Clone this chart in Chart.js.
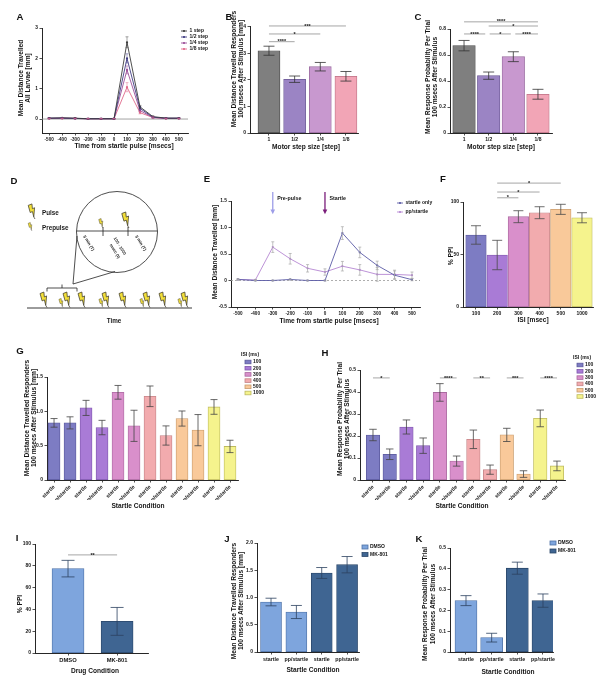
<!DOCTYPE html>
<html>
<head>
<meta charset="utf-8">
<title>Startle / PPI figure</title>
<script src="https://cdn.jsdelivr.net/npm/chart.js@4.4.1/dist/chart.umd.min.js"></script>
<style>
  html, body { margin:0; padding:0; background:#ffffff; }
  body { position:relative; width:612px; height:680px; overflow:hidden; font-family:'Liberation Sans', Arial, sans-serif; }
  canvas { position:absolute; left:0; top:0; }
  #overlay { position:absolute; left:0; top:0; }
</style>
</head>
<body>
<script>
// ================= DATA =================
// Panel A
const timeTicks = [-500,-400,-300,-200,-100,0,100,200,300,400,500];
const stepLabels = ['1 step','1/2 step','1/4 step','1/8 step'];
const distStep1 = [0.03,0.04,0.03,0.01,0.01,0.01,2.53,0.40,0.08,0.03,0.03];
const distStep2 = [0.03,0.03,0.02,0.01,0.01,0.01,2.00,0.35,0.06,0.03,0.03];
const distStep4 = [0.02,0.03,0.02,0.01,0.01,0.01,1.62,0.28,0.05,0.02,0.02];
const distStep8 = [0.02,0.02,0.02,0.01,0.01,0.01,1.05,0.21,0.05,0.02,0.02];
const errStep1 = [0.01,0.01,0.01,0.01,0.01,0.01,0.18,0.05,0.02,0.01,0.01];
const errStep2 = [0.01,0.01,0.01,0.01,0.01,0.01,0.15,0.05,0.02,0.01,0.01];
const errStep4 = [0.01,0.01,0.01,0.01,0.01,0.01,0.13,0.04,0.02,0.01,0.01];
const errStep8 = [0.01,0.01,0.01,0.01,0.01,0.01,0.15,0.04,0.02,0.01,0.01];
// Panels B, C
const stepCats = ['1','1/2','1/4','1/8'];
const respDistStep = [3.09, 2.02, 2.49, 2.13];
const respDistStepErr = [0.17, 0.12, 0.16, 0.18];
const respProbStep = [0.672, 0.441, 0.587, 0.298];
const respProbStepErr = [0.040, 0.028, 0.038, 0.038];
// Panel E
const eventLabels = ['Pre-pulse','Startle'];
const eventTimes = [-300, 0];
const trialLabels = ['startle only','pp/startle'];
const startleOnly = [0.02,0.00,0.00,0.02,0.00,0.00,0.895,0.53,0.285,0.10,0.015];
const startleOnlyErr = [0.01,0.01,0.01,0.01,0.01,0.01,0.12,0.10,0.08,0.08,0.02];
const ppStartle = [0.02,0.01,0.63,0.41,0.23,0.16,0.27,0.20,0.115,0.115,0.10];
const ppStartleErr = [0.01,0.01,0.10,0.10,0.07,0.06,0.09,0.10,0.13,0.08,0.06];
// Panel F
const isiLabels = ['100','200','300','400','500','1000'];
const ppiByIsi = [68.6, 49.5, 86.0, 89.8, 93.0, 85.0];
const ppiByIsiErr = [8.8, 14.0, 5.7, 5.7, 4.8, 4.8];
// Panels G, H
const conditionLabels = ['startle','pp/startle','startle','pp/startle','startle','pp/startle','startle','pp/startle','startle','pp/startle','startle','pp/startle'];
const respDistIsi = [0.832,0.832,1.05,0.764,1.277,0.789,1.219,0.648,0.895,0.726,1.064,0.489];
const respDistIsiErr = [0.063,0.088,0.11,0.105,0.10,0.227,0.15,0.14,0.11,0.227,0.107,0.09];
const respProbIsi = [0.2045,0.117,0.241,0.156,0.398,0.086,0.185,0.047,0.205,0.027,0.28,0.064];
const respProbIsiErr = [0.026,0.024,0.032,0.035,0.04,0.023,0.042,0.021,0.03,0.015,0.038,0.022];
const sigIsi = ['*','','****','**','***','****'];
// Panel I
const drugLabels = ['DMSO','MK-801'];
const ppiDrug = [77.4, 29.0];
const ppiDrugErr = [7.6, 12.8];
// Panels J, K
const pairLabels = ['startle','pp/startle','startle','pp/startle'];
const distDmso = [0.917, 0.734];
const distDmsoErr = [0.07, 0.12];
const distMk = [1.45, 1.602];
const distMkErr = [0.10, 0.15];
const probDmso = [0.247, 0.069];
const probDmsoErr = [0.024, 0.021];
const probMk = [0.403, 0.247];
const probMkErr = [0.029, 0.032];

// ================= STYLE =================
const FONT = "'Liberation Sans', Arial, Helvetica, sans-serif";
const AXIS = '#262626';
const TXT = '#141414';
const stepLineColors = ['#3c3c3c','#3f3b82','#9b4e98','#e0698a'];
const stepFill = ['#7f7f7f','#9b84c4','#c898cf','#f2a5b6'];
const stepBorder = ['#4a4a4a','#6a5894','#98699e','#bd7285'];
const trialColors = ['#5b5ba6','#b587d3'];
const eventColors = ['#9d9de8','#7a1d7a'];
const isiFill = ['#7d7cc3','#a97bd6','#d98fcb','#f2abae','#f9c99a','#f5f38d'];
const isiBorder = ['#5a599c','#7f58ad','#aa6aa0','#c48487','#c89c6e','#bcb95e'];
const drugFill = ['#7ea5dd','#3f6592'];
const drugBorder = ['#4f72a6','#2a4668'];

const EXTRAS = {};
const bf = s => `bold ${s}px ${FONT}`;
const fmtDec = d => v => (v === 0 ? '0' : v.toFixed(d));
const idx = arr => arr.map((_, i) => i + 1);

const extrasPlugin = {
  id: 'extras',
  beforeDatasetsDraw(chart) {
    const e = EXTRAS[chart.canvas.id];
    if (!e || !e.zeroLine) return;
    const ctx = chart.ctx, a = chart.chartArea, y = chart.scales.y.getPixelForValue(0);
    ctx.save();
    ctx.strokeStyle = e.zeroLine.color; ctx.lineWidth = e.zeroLine.width;
    ctx.setLineDash(e.zeroLine.dash || []);
    ctx.beginPath(); ctx.moveTo(a.left, y); ctx.lineTo(a.right, y); ctx.stroke();
    ctx.restore();
  },
  afterDatasetsDraw(chart) {
    const ctx = chart.ctx, ys = chart.scales.y;
    chart.data.datasets.forEach((ds, di) => {
      if (!ds.errors) return;
      const meta = chart.getDatasetMeta(di);
      meta.data.forEach((el, i) => {
        const err = ds.errors[i];
        if (!err) return;
        const v = ds.data[i].y;
        const yTop = ys.getPixelForValue(v + err), yBot = ys.getPixelForValue(v - err);
        const half = ds.capWidth / 2;
        ctx.save();
        ctx.strokeStyle = ds.errorColor; ctx.lineWidth = ds.errorWidth || 0.8;
        ctx.beginPath();
        ctx.moveTo(el.x, yTop); ctx.lineTo(el.x, yBot);
        ctx.moveTo(el.x - half, yTop); ctx.lineTo(el.x + half, yTop);
        ctx.moveTo(el.x - half, yBot); ctx.lineTo(el.x + half, yBot);
        ctx.stroke();
        ctx.restore();
      });
    });
  },
  afterDraw(chart) {
    const e = EXTRAS[chart.canvas.id];
    if (!e) return;
    const ctx = chart.ctx, xs = chart.scales.x, ys = chart.scales.y;
    (e.brackets || []).forEach(b => {
      const x1 = xs.getPixelForValue(b.x1), x2 = xs.getPixelForValue(b.x2), y = ys.getPixelForValue(b.y);
      ctx.save();
      ctx.strokeStyle = '#9c9c9c'; ctx.lineWidth = 0.9;
      ctx.beginPath(); ctx.moveTo(x1, y); ctx.lineTo(x2, y); ctx.stroke();
      ctx.fillStyle = TXT; ctx.font = bf(5.5); ctx.textAlign = 'center'; ctx.textBaseline = 'alphabetic';
      ctx.fillText(b.text, (x1 + x2) / 2, y + 1.6);
      ctx.restore();
    });
    (e.arrows || []).forEach(ar => {
      const x = xs.getPixelForValue(ar.x), y0 = ys.getPixelForValue(ar.from), y1 = ys.getPixelForValue(ar.to);
      ctx.save();
      ctx.strokeStyle = ar.color; ctx.fillStyle = ar.color; ctx.lineWidth = 1.3;
      ctx.beginPath(); ctx.moveTo(x, y0); ctx.lineTo(x, y1 - 4); ctx.stroke();
      ctx.beginPath(); ctx.moveTo(x - 2.3, y1 - 4.8); ctx.lineTo(x + 2.3, y1 - 4.8); ctx.lineTo(x, y1); ctx.closePath(); ctx.fill();
      ctx.fillStyle = TXT; ctx.font = bf(5.3); ctx.textAlign = 'left'; ctx.textBaseline = 'middle';
      ctx.fillText(ar.label, x + 4.5, ys.getPixelForValue(ar.labelY));
      ctx.restore();
    });
    if (e.legend) {
      const L = e.legend;
      ctx.save();
      ctx.font = bf(L.size || 5); ctx.textBaseline = 'middle'; ctx.textAlign = 'left';
      if (L.title) { ctx.fillStyle = TXT; ctx.fillText(L.title, L.titleX, L.titleY); }
      const items = L.items || chart.data.datasets.map(d => ({label: d.label, fill: d.backgroundColor, stroke: d.borderColor}));
      items.forEach((it, k) => {
        const y = L.y + k * L.dy;
        if (L.kind === 'line') {
          ctx.strokeStyle = it.stroke; ctx.lineWidth = 0.9;
          ctx.beginPath(); ctx.moveTo(L.x, y); ctx.lineTo(L.x + 6, y); ctx.stroke();
          ctx.fillStyle = it.stroke; ctx.beginPath(); ctx.arc(L.x + 3, y, 1.1, 0, Math.PI * 2); ctx.fill();
          ctx.fillStyle = TXT; ctx.fillText(it.label, L.x + 8.5, y);
        } else {
          const bw = L.bw || 6, bh = L.bh || 4;
          ctx.fillStyle = it.fill; ctx.fillRect(L.x, y - bh / 2, bw, bh);
          ctx.strokeStyle = it.stroke; ctx.lineWidth = 0.8; ctx.strokeRect(L.x, y - bh / 2, bw, bh);
          ctx.fillStyle = TXT; ctx.fillText(it.label, L.x + bw + 2, y);
        }
      });
      ctx.restore();
    }
    if (e.titles) {
      const T = e.titles;
      ctx.save();
      ctx.fillStyle = TXT; ctx.textAlign = 'center'; ctx.textBaseline = 'middle';
      if (T.x) { ctx.font = bf(T.x.size || 6.6); ctx.fillText(T.x.text, T.x.cx, T.x.cy); }
      if (T.y) {
        ctx.font = bf(T.y.size || 6.6);
        T.y.lines.forEach((ln, k) => {
          ctx.save(); ctx.translate(T.y.xs[k], T.y.cy); ctx.rotate(-Math.PI / 2); ctx.fillText(ln, 0, 0); ctx.restore();
        });
      }
      ctx.restore();
    }
  }
};

function axis(ax, isX, titleText) {
  return {
    type: 'linear', min: ax.min, max: ax.max, bounds: 'data', offset: false,
    afterBuildTicks: s => { s.ticks = ax.ticks.map(v => ({value: v})); },
    afterFit: s => {
      if (isX) s.height = 20; else s.width = 20;
      s.paddingLeft = 0; s.paddingRight = 0; s.paddingTop = 0; s.paddingBottom = 0;
    },
    ticks: {
      autoSkip: false, padding: ax.pad ?? 1.5, color: TXT,
      font: {family: FONT, size: ax.size || 5, weight: 'bold'},
      callback: v => ax.fmt(v), maxRotation: ax.rot || 0, minRotation: ax.rot || 0
    },
    grid: { display: true, drawOnChartArea: false, drawTicks: true, tickLength: ax.tick ?? 2.5, color: AXIS, lineWidth: 0.8, offset: false },
    border: { display: true, color: AXIS, width: 1 },
    title: { display: false, text: titleText }
  };
}

function makeChart(c) {
  const cv = document.createElement('canvas');
  cv.id = c.id; cv.width = 612; cv.height = 680;
  cv.style.width = '612px'; cv.style.height = '680px';
  document.body.appendChild(cv);
  EXTRAS[c.id] = c.extras;
  const a = c.area;
  new Chart(cv, {
    type: c.type,
    data: { datasets: c.datasets },
    options: {
      responsive: false, animation: false, events: [],
      layout: { padding: { left: a.l - 20, top: a.t, right: 612 - a.r, bottom: 680 - a.b - 20 } },
      plugins: { legend: { display: false }, tooltip: { enabled: false }, title: { display: false } },
      scales: {
        x: axis(c.x, true, c.extras.titles && c.extras.titles.x ? c.extras.titles.x.text : ''),
        y: axis(c.y, false, c.extras.titles && c.extras.titles.y ? c.extras.titles.y.lines : '')
      }
    },
    plugins: [extrasPlugin]
  });
}

const pts = (xs, ys) => xs.map((x, i) => ({x, y: ys[i]}));
function lineDs(label, values, errs, color, errColor) {
  return { label, data: pts(timeTicks, values), errors: errs, borderColor: color, backgroundColor: color,
    borderWidth: 0.9, pointRadius: 1.1, pointBorderWidth: 0, tension: 0, errorColor: errColor, capWidth: 3, errorWidth: 0.7 };
}
function barDs(label, xs, values, errs, fill, border, thick, cap, errColor) {
  return { label, data: pts(xs, values), errors: errs, backgroundColor: fill, borderColor: border, borderWidth: 0.8,
    borderSkipped: false, barThickness: thick, grouped: false, capWidth: cap, errorColor: errColor, errorWidth: 0.8 };
}

// ---------- A ----------
const stepSeries = [distStep1, distStep2, distStep4, distStep8];
const stepErrs = [errStep1, errStep2, errStep4, errStep8];
makeChart({
  id: 'chartA', type: 'line', area: {l: 42, t: 28, r: 188, b: 133},
  x: {min: -555, max: 570, ticks: timeTicks, fmt: v => String(v), size: 4.6},
  y: {min: -0.46, max: 3, ticks: [0, 1, 2, 3], fmt: v => String(v), size: 4.8},
  datasets: stepLabels.map((lab, k) => lineDs(lab, stepSeries[k], stepErrs[k], stepLineColors[k], stepLineColors[k] + 'aa')),
  extras: {
    zeroLine: {color: '#8c8c8c', width: 0.8},
    legend: {kind: 'line', x: 181, y: 31, dy: 6, size: 5},
    titles: {x: {text: 'Time from startle pulse [msecs]', cx: 124, cy: 146},
             y: {lines: ['Mean Distance Travelled', 'All Larvae [mm]'], xs: [21, 28], cy: 78}}
  }
});

// ---------- B ----------
makeChart({
  id: 'chartB', type: 'bar', area: {l: 250, t: 26.5, r: 358, b: 133},
  x: {min: 0.26, max: 4.47, ticks: idx(stepCats), fmt: v => stepCats[v - 1], size: 5},
  y: {min: 0, max: 4, ticks: [0, 1, 2, 3, 4], fmt: v => String(v), size: 5},
  datasets: [barDs('Mean distance', idx(stepCats), respDistStep, respDistStepErr, stepFill, stepBorder, 22, 11, '#333333')],
  extras: {
    brackets: [{x1: 1, x2: 2, y: 3.43, text: '****'}, {x1: 1, x2: 3, y: 3.72, text: '*'}, {x1: 1, x2: 4, y: 4.02, text: '***'}],
    titles: {x: {text: 'Motor step size [step]', cx: 306, cy: 147},
             y: {lines: ['Mean Distance Travelled Responders', '100 msecs After Stimulus [mm]'], xs: [234, 241], cy: 69}}
  }
});

// ---------- C ----------
makeChart({
  id: 'chartC', type: 'bar', area: {l: 450, t: 29, r: 552, b: 133},
  x: {min: 0.43, max: 4.57, ticks: idx(stepCats), fmt: v => stepCats[v - 1], size: 5},
  y: {min: 0, max: 0.8, ticks: [0, 0.2, 0.4, 0.6, 0.8], fmt: fmtDec(1), size: 5},
  datasets: [barDs('Response probability', idx(stepCats), respProbStep, respProbStepErr, stepFill, stepBorder, 22.5, 11, '#333333')],
  extras: {
    brackets: [{x1: 1, x2: 4, y: 0.855, text: '****'}, {x1: 2, x2: 4, y: 0.823, text: '*'},
               {x1: 1, x2: 1.86, y: 0.762, text: '****'}, {x1: 2.04, x2: 2.9, y: 0.762, text: '*'}, {x1: 3.08, x2: 4, y: 0.762, text: '****'}],
    titles: {x: {text: 'Motor step size [step]', cx: 501, cy: 147},
             y: {lines: ['Mean Response Probability Per Trial', '100 msecs After Stimulus'], xs: [428, 435], cy: 77}}
  }
});

// ---------- E ----------
makeChart({
  id: 'chartE', type: 'line', area: {l: 231, t: 201, r: 420, b: 307},
  x: {min: -540, max: 546, ticks: timeTicks, fmt: v => String(v), size: 4.6},
  y: {min: -0.5, max: 1.5, ticks: [-0.5, 0, 0.5, 1, 1.5], fmt: fmtDec(1), size: 4.8},
  datasets: [lineDs(trialLabels[0], startleOnly, startleOnlyErr, trialColors[0], '#a8a8a8'),
             lineDs(trialLabels[1], ppStartle, ppStartleErr, trialColors[1], '#a8a8a8')],
  extras: {
    zeroLine: {color: '#9a9a9a', width: 0.8, dash: [2, 2]},
    arrows: eventLabels.map((lab, k) => ({x: eventTimes[k], from: 1.67, to: 1.25, labelY: 1.55, color: eventColors[k], label: lab})),
    legend: {kind: 'line', x: 397, y: 203, dy: 9, size: 5},
    titles: {x: {text: 'Time from startle pulse [msecs]', cx: 329, cy: 321},
             y: {lines: ['Mean Distance Travelled [mm]'], xs: [215], cy: 252}}
  }
});

// ---------- F ----------
makeChart({
  id: 'chartF', type: 'bar', area: {l: 463, t: 202, r: 593, b: 307},
  x: {min: 0.387, max: 6.52, ticks: idx(isiLabels), fmt: v => isiLabels[v - 1], size: 5},
  y: {min: 0, max: 100, ticks: [0, 50, 100], fmt: v => String(v), size: 5},
  datasets: [barDs('% PPI', idx(isiLabels), ppiByIsi, ppiByIsiErr, isiFill, isiBorder, 20.5, 10, '#4a4a4a')],
  extras: {
    brackets: [{x1: 2, x2: 3, y: 104, text: '*'}, {x1: 2, x2: 4, y: 109.5, text: '*'}, {x1: 2, x2: 5, y: 118, text: '*'}],
    titles: {x: {text: 'ISI [msec]', cx: 533, cy: 320}, y: {lines: ['% PPI'], xs: [451], cy: 256}}
  }
});

// ---------- G ----------
const condFill = conditionLabels.map((_, i) => isiFill[Math.floor(i / 2)]);
const condBorder = conditionLabels.map((_, i) => isiBorder[Math.floor(i / 2)]);
const isiLegend = isiLabels.map((l, i) => ({label: l, fill: isiFill[i], stroke: isiBorder[i]}));
makeChart({
  id: 'chartG', type: 'bar', area: {l: 47, t: 377, r: 238, b: 480},
  x: {min: 0.56, max: 12.5, ticks: idx(conditionLabels), fmt: v => conditionLabels[v - 1], size: 5.2, rot: 45},
  y: {min: 0, max: 1.5, ticks: [0, 0.5, 1, 1.5], fmt: fmtDec(1), size: 5},
  datasets: [barDs('Mean distance', idx(conditionLabels), respDistIsi, respDistIsiErr, condFill, condBorder, 12, 7, '#444444')],
  extras: {
    legend: {kind: 'box', title: 'ISI (ms)', titleX: 241, titleY: 355, x: 245, y: 362, dy: 6.2, size: 5, bw: 6, bh: 3.6, items: isiLegend},
    titles: {x: {text: 'Startle Condition', cx: 138, cy: 506},
             y: {lines: ['Mean Distance Travelled Responders', '100 msecs After Stimulus [mm]'], xs: [27, 34], cy: 418}}
  }
});

// ---------- H ----------
makeChart({
  id: 'chartH', type: 'bar', area: {l: 360, t: 370, r: 565, b: 480},
  x: {min: 0.223, max: 12.48, ticks: idx(conditionLabels), fmt: v => conditionLabels[v - 1], size: 5.2, rot: 45},
  y: {min: 0, max: 0.5, ticks: [0, 0.1, 0.2, 0.3, 0.4, 0.5], fmt: fmtDec(1), size: 5},
  datasets: [barDs('Response probability', idx(conditionLabels), respProbIsi, respProbIsiErr, condFill, condBorder, 13.5, 7.5, '#444444')],
  extras: {
    brackets: sigIsi.map((s, k) => ({x1: 2 * k + 1, x2: 2 * k + 2, y: 0.464, text: s})).filter(b => b.text),
    legend: {kind: 'box', title: 'ISI (ms)', titleX: 573, titleY: 358, x: 577, y: 365, dy: 6.3, size: 5, bw: 6, bh: 3.6, items: isiLegend},
    titles: {x: {text: 'Startle Condition', cx: 462, cy: 506},
             y: {lines: ['Mean Response Probability Per Trial', '100 msecs After Stimulus'], xs: [340, 347.5], cy: 419}}
  }
});

// ---------- I ----------
makeChart({
  id: 'chartI', type: 'bar', area: {l: 35, t: 544, r: 148, b: 653},
  x: {min: 0.327, max: 2.63, ticks: idx(drugLabels), fmt: v => drugLabels[v - 1], size: 5.8},
  y: {min: 0, max: 100, ticks: [0, 20, 40, 60, 80, 100], fmt: v => String(v), size: 5},
  datasets: [barDs('% PPI', idx(drugLabels), ppiDrug, ppiDrugErr, drugFill, drugBorder, 32, 13, '#2c4160')],
  extras: {
    brackets: [{x1: 1, x2: 2, y: 90, text: '**'}],
    titles: {x: {text: 'Drug Condition', cx: 95, cy: 671}, y: {lines: ['% PPI'], xs: [20.5], cy: 604}}
  }
});

// ---------- J ----------
makeChart({
  id: 'chartJ', type: 'bar', area: {l: 257, t: 543, r: 359, b: 652},
  x: {min: 0.447, max: 4.47, ticks: idx(pairLabels), fmt: v => pairLabels[v - 1], size: 5.3},
  y: {min: 0, max: 2, ticks: [0, 0.5, 1, 1.5, 2], fmt: fmtDec(1), size: 5},
  datasets: [barDs(drugLabels[0], [1, 2], distDmso, distDmsoErr, drugFill[0], drugBorder[0], 21, 11, '#2c4160'),
             barDs(drugLabels[1], [3, 4], distMk, distMkErr, drugFill[1], drugBorder[1], 21, 11, '#2c4160')],
  extras: {
    legend: {kind: 'box', x: 362, y: 547, dy: 7.5, size: 5, bw: 6, bh: 4},
    titles: {x: {text: 'Startle Condition', cx: 313, cy: 670},
             y: {lines: ['Mean Distance Travelled Responders', '100 msecs After Stimulus [mm]'], xs: [234.5, 241.5], cy: 601}}
  }
});

// ---------- K ----------
makeChart({
  id: 'chartK', type: 'bar', area: {l: 450, t: 548, r: 553, b: 652},
  x: {min: 0.377, max: 4.39, ticks: idx(pairLabels), fmt: v => pairLabels[v - 1], size: 5.3},
  y: {min: 0, max: 0.5, ticks: [0, 0.1, 0.2, 0.3, 0.4, 0.5], fmt: fmtDec(1), size: 5},
  datasets: [barDs(drugLabels[0], [1, 2], probDmso, probDmsoErr, drugFill[0], drugBorder[0], 22, 11, '#2c4160'),
             barDs(drugLabels[1], [3, 4], probMk, probMkErr, drugFill[1], drugBorder[1], 22, 11, '#2c4160')],
  extras: {
    legend: {kind: 'box', x: 550, y: 543, dy: 8, size: 5, bw: 6, bh: 4},
    titles: {x: {text: 'Startle Condition', cx: 508, cy: 672},
             y: {lines: ['Mean Response Probability Per Trial', '100 msecs After Stimulus'], xs: [425.5, 433], cy: 604}}
  }
});

// ---------- Overlay: panel letters + schematic D ----------
const panelLetters = [['A',20,16],['B',229,16],['C',418,16],['D',14,180],['E',207,178],['F',443,178],
                      ['G',20,350],['H',325,352],['I',17,537],['J',227,538],['K',419,538]];
function bolt(x, y, s) {
  return `<use href="#bolt" transform="translate(${x},${y}) rotate(-25) scale(${s}) translate(-3.5,-19)"/>`;
}
const big = 0.82, small = 0.48;
const timelineBolts = [[47,big],[63,small],[70,big],[85,big],[103,small],[109,big],[126,big],
                       [144,small],[150,big],[166,big],[182,small],[188,big]];
let svg = `<svg id="overlay" xmlns="http://www.w3.org/2000/svg" width="612" height="680" font-family="Liberation Sans, Arial, sans-serif">
<defs><g id="bolt">
 <path d="M3,0 L8,0.3 L6,6 L9,6 L3.2,16 L4.5,9.2 L1.5,9.2 Z" fill="#f2df3a" stroke="#3a3628" stroke-width="0.8" stroke-linejoin="round"/>
 <path d="M3.2,16 L3.5,19" stroke="#3a3628" stroke-width="0.8"/>
</g></defs>`;
panelLetters.forEach(([t, x, y]) => {
  svg += `<text x="${x}" y="${y}" font-size="9.6" font-weight="bold" fill="#111" text-anchor="middle" dominant-baseline="central">${t}</text>`;
});
svg += `<g font-weight="bold" fill="#1a1a1a">`;
svg += bolt(35, 219, 0.8) + bolt(32, 231, 0.45);
svg += `<text x="42" y="212" font-size="6.3" dominant-baseline="central">Pulse</text>`;
svg += `<text x="42" y="227" font-size="6.3" dominant-baseline="central">Prepulse</text>`;
svg += `<circle cx="117" cy="232" r="40.5" fill="none" stroke="#222" stroke-width="0.8"/>`;
svg += `<line x1="76.5" y1="231" x2="157.5" y2="231" stroke="#222" stroke-width="0.8"/>`;
svg += `<line x1="103" y1="227" x2="103" y2="236" stroke="#222" stroke-width="0.8"/>`;
svg += `<line x1="128" y1="227" x2="128" y2="236" stroke="#222" stroke-width="0.8"/>`;
svg += bolt(103, 228, 0.5) + bolt(129, 228, 0.85);
svg += `<text transform="translate(89,243) rotate(58)" font-size="4.2" text-anchor="middle" dominant-baseline="central">5 min (T)</text>`;
svg += `<text transform="translate(120,246) rotate(58)" font-size="4.2" text-anchor="middle" dominant-baseline="central">100 - 1000</text>`;
svg += `<text transform="translate(115,251) rotate(58)" font-size="4.2" text-anchor="middle" dominant-baseline="central">msec (t)</text>`;
svg += `<text transform="translate(141,243) rotate(58)" font-size="4.2" text-anchor="middle" dominant-baseline="central">5 min (T)</text>`;
svg += `<line x1="73" y1="284" x2="77" y2="236" stroke="#222" stroke-width="0.8"/>`;
svg += `<line x1="73" y1="284" x2="115" y2="271.5" stroke="#222" stroke-width="0.8"/>`;
svg += `<path d="M47,291.5 L47,288 L77,288 L77,291.5 M62,288 L62,284.5" fill="none" stroke="#222" stroke-width="0.8"/>`;
svg += `<line x1="27" y1="308" x2="192" y2="308" stroke="#222" stroke-width="0.9"/>`;
timelineBolts.forEach(([x, s]) => { svg += bolt(x, 307.5, s); });
svg += `<text x="114" y="320" font-size="6.3" text-anchor="middle" dominant-baseline="central">Time</text>`;
svg += `</g></svg>`;
document.body.insertAdjacentHTML('beforeend', svg);
</script>
</body>
</html>
